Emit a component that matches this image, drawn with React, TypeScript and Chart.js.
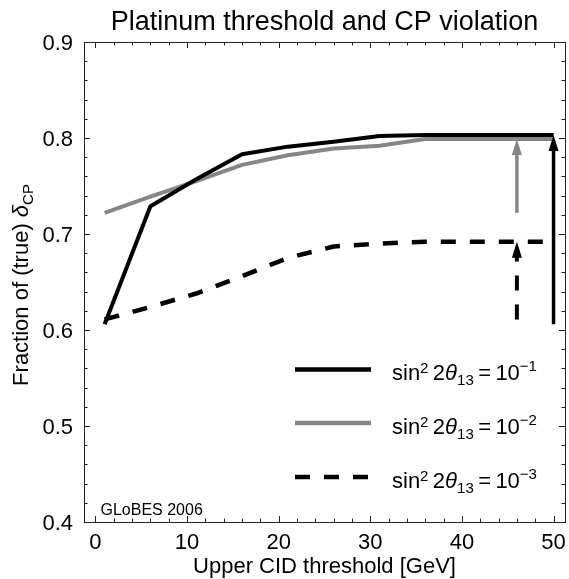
import { useEffect, useRef } from "react";
import { Chart, registerables } from "chart.js";

Chart.register(...registerables);

// ---- data ----
const thresholdsGeV = [1, 6, 11, 16, 21, 26, 31, 36, 41, 46, 50];
const fractionSin1 = [0.606, 0.729, 0.757, 0.783, 0.791, 0.796, 0.802, 0.803, 0.803, 0.803, 0.803];
const fractionSin2 = [0.722, 0.739, 0.755, 0.772, 0.782, 0.789, 0.792, 0.799, 0.799, 0.799, 0.799];
const fractionSin3 = [0.611, 0.624, 0.638, 0.656, 0.675, 0.687, 0.69, 0.692, 0.692, 0.692, 0.692];

const seriesExponents = ["1", "2", "3"];

const arrowX = [50, 46, 46];
const arrowFrom = [0.606, 0.722, 0.611];
const arrowTo = [0.803, 0.799, 0.692];

const xTickLabels = [0, 10, 20, 30, 40, 50];
const yTickLabels = [0.4, 0.5, 0.6, 0.7, 0.8, 0.9];
const xMinorTicks = [0, 2, 4, 6, 8, 10, 12, 14, 16, 18, 20, 22, 24, 26, 28, 30, 32, 34, 36, 38, 40, 42, 44, 46, 48, 50];
const yMinorTicks = [0.4, 0.42, 0.44, 0.46, 0.48, 0.5, 0.52, 0.54, 0.56, 0.58, 0.6, 0.62, 0.64, 0.66, 0.68, 0.7, 0.72, 0.74, 0.76, 0.78, 0.8, 0.82, 0.84, 0.86, 0.88, 0.9];

const titleText = "Platinum threshold and CP violation";
const xTitleText = "Upper CID threshold [GeV]";
const yTitleText = "Fraction of (true) ";
const creditText = "GLoBES 2006";

// ---- styles ----
const FONT = "'Liberation Sans', Arial, Helvetica, sans-serif";
const BLACK = "#000000";
const GRAY = "#868686";
const DASH = [15, 14];
const seriesColors = [BLACK, GRAY, BLACK];
const seriesDashes: number[][] = [[], [], DASH];
const seriesWidths = [4, 4, 4.5];
const arrowWidths = [3.5, 3.5, 4];

type Seg = { t: string; font: string; dy: number };

function drawRich(ctx: CanvasRenderingContext2D, segs: Seg[], x: number, y: number) {
  let cx = x;
  for (const s of segs) {
    ctx.font = s.font;
    ctx.fillText(s.t, cx, y + s.dy);
    cx += ctx.measureText(s.t).width;
  }
  return cx - x;
}

function richWidth(ctx: CanvasRenderingContext2D, segs: Seg[]) {
  let w = 0;
  for (const s of segs) {
    ctx.font = s.font;
    w += ctx.measureText(s.t).width;
  }
  return w;
}

const decor = {
  id: "decor",
  afterDatasetsDraw(chart: any) {
    const ctx: CanvasRenderingContext2D = chart.ctx;
    const xs = chart.scales.x;
    const ys = chart.scales.y;
    const area = chart.chartArea;
    ctx.save();

    // arrows
    for (let i = 0; i < arrowX.length; i++) {
      const px = xs.getPixelForValue(arrowX[i]);
      const y0 = ys.getPixelForValue(arrowFrom[i]);
      const y1 = ys.getPixelForValue(arrowTo[i]);
      const headLen = 16;
      const headHalf = 5;
      ctx.strokeStyle = seriesColors[i];
      ctx.fillStyle = seriesColors[i];
      ctx.lineWidth = arrowWidths[i];
      ctx.setLineDash(seriesDashes[i]);
      ctx.lineCap = "butt";
      ctx.beginPath();
      ctx.moveTo(px, y0);
      ctx.lineTo(px, y1 + headLen - 2);
      ctx.stroke();
      ctx.setLineDash([]);
      ctx.beginPath();
      ctx.moveTo(px, y1);
      ctx.lineTo(px - headHalf, y1 + headLen);
      ctx.lineTo(px + headHalf, y1 + headLen);
      ctx.closePath();
      ctx.fill();
    }

    // frame
    ctx.setLineDash([]);
    ctx.strokeStyle = "#222";
    ctx.lineWidth = 1;
    ctx.strokeRect(area.left + 0.5, area.top + 0.5, area.right - area.left, area.bottom - area.top);

    // ticks (inside, on all four sides)
    ctx.beginPath();
    for (const v of xMinorTicks) {
      const px = Math.round(xs.getPixelForValue(v)) + 0.5;
      const len = xTickLabels.includes(v) ? 6 : 3.5;
      ctx.moveTo(px, area.bottom);
      ctx.lineTo(px, area.bottom - len);
      ctx.moveTo(px, area.top);
      ctx.lineTo(px, area.top + len);
    }
    for (const v of yMinorTicks) {
      const py = Math.round(ys.getPixelForValue(v)) + 0.5;
      const major = yTickLabels.some((t) => Math.abs(t - v) < 1e-6);
      const len = major ? 6 : 3.5;
      ctx.moveTo(area.left, py);
      ctx.lineTo(area.left + len, py);
      ctx.moveTo(area.right, py);
      ctx.lineTo(area.right - len, py);
    }
    ctx.stroke();

    // tick labels
    ctx.fillStyle = "#000";
    ctx.font = `22px ${FONT}`;
    ctx.textBaseline = "alphabetic";
    ctx.textAlign = "center";
    for (const v of xTickLabels) {
      ctx.fillText(String(v), xs.getPixelForValue(v), 548.5);
    }
    ctx.textAlign = "right";
    for (const v of yTickLabels) {
      ctx.fillText(v.toFixed(1), 73, ys.getPixelForValue(v) + 8);
    }

    // title
    ctx.textAlign = "center";
    ctx.font = `27px ${FONT}`;
    ctx.fillText(titleText, (area.left + area.right) / 2, 30);

    // x title
    ctx.font = `22px ${FONT}`;
    ctx.fillText(xTitleText, (area.left + area.right) / 2, 573);

    // y title
    ctx.save();
    ctx.translate(28, (area.top + area.bottom) / 2 + 3);
    ctx.rotate(-Math.PI / 2);
    ctx.textAlign = "left";
    const ySegs: Seg[] = [
      { t: yTitleText, font: `22px ${FONT}`, dy: 0 },
      { t: "δ", font: `italic 22px ${FONT}`, dy: 0 },
      { t: "CP", font: `15px ${FONT}`, dy: 5 },
    ];
    const yw = richWidth(ctx, ySegs);
    drawRich(ctx, ySegs, -yw / 2, 0);
    ctx.restore();

    // credit
    ctx.textAlign = "left";
    ctx.font = `16px ${FONT}`;
    ctx.fillText(creditText, 100.5, 515);

    // legend
    const rowY = [369.5, 423, 477];
    for (let i = 0; i < seriesExponents.length; i++) {
      ctx.strokeStyle = seriesColors[i];
      ctx.lineWidth = 4.5;
      ctx.setLineDash(seriesDashes[i]);
      ctx.beginPath();
      ctx.moveTo(295, rowY[i]);
      ctx.lineTo(371, rowY[i]);
      ctx.stroke();
      ctx.setLineDash([]);
      ctx.fillStyle = "#000";
      const base = rowY[i] + 10.5;
      const segs: Seg[] = [
        { t: "sin", font: `22px ${FONT}`, dy: 0 },
        { t: "2", font: `15px ${FONT}`, dy: -7 },
        { t: "\u20092", font: `22px ${FONT}`, dy: 0 },
        { t: "θ", font: `italic 22px ${FONT}`, dy: 0 },
        { t: "13", font: `15px ${FONT}`, dy: 5 },
        { t: "\u2009=\u200910", font: `22px ${FONT}`, dy: 0 },
        { t: "\u2212" + seriesExponents[i], font: `15px ${FONT}`, dy: -9 },
      ];
      drawRich(ctx, segs, 392, base);
    }

    ctx.restore();
  },
};

export default function App() {
  const ref = useRef<HTMLCanvasElement>(null);
  useEffect(() => {
    const seriesData = [fractionSin1, fractionSin2, fractionSin3];
    const chart = new Chart(ref.current as HTMLCanvasElement, {
      type: "line",
      data: {
        datasets: seriesData.map((vals, i) => ({
          label: "sin²2θ13=10^-" + seriesExponents[i],
          data: thresholdsGeV.map((x, j) => ({ x, y: vals[j] })),
          borderColor: seriesColors[i],
          borderWidth: seriesWidths[i],
          borderDash: seriesDashes[i],
          borderCapStyle: "butt",
          borderJoinStyle: "round",
          pointRadius: 0,
          tension: 0,
          fill: false,
        })),
      },
      options: {
        responsive: false,
        animation: false,
        devicePixelRatio: 1,
        layout: { padding: { left: 84, top: 42, right: 4, bottom: 57 } },
        scales: {
          x: { type: "linear", min: -1.25, max: 51.25, display: false },
          y: { type: "linear", min: 0.4, max: 0.9, display: false },
        },
        plugins: {
          legend: { display: false },
          tooltip: { enabled: false },
          title: { display: false },
        },
        events: [],
      },
      plugins: [decor],
    } as any);
    return () => chart.destroy();
  }, []);
  return (
    <div style={{ position: "absolute", left: 0, top: 0, width: 569, height: 579, background: "#fff" }}>
      <canvas ref={ref} width={569} height={579} style={{ display: "block" }} />
    </div>
  );
}
